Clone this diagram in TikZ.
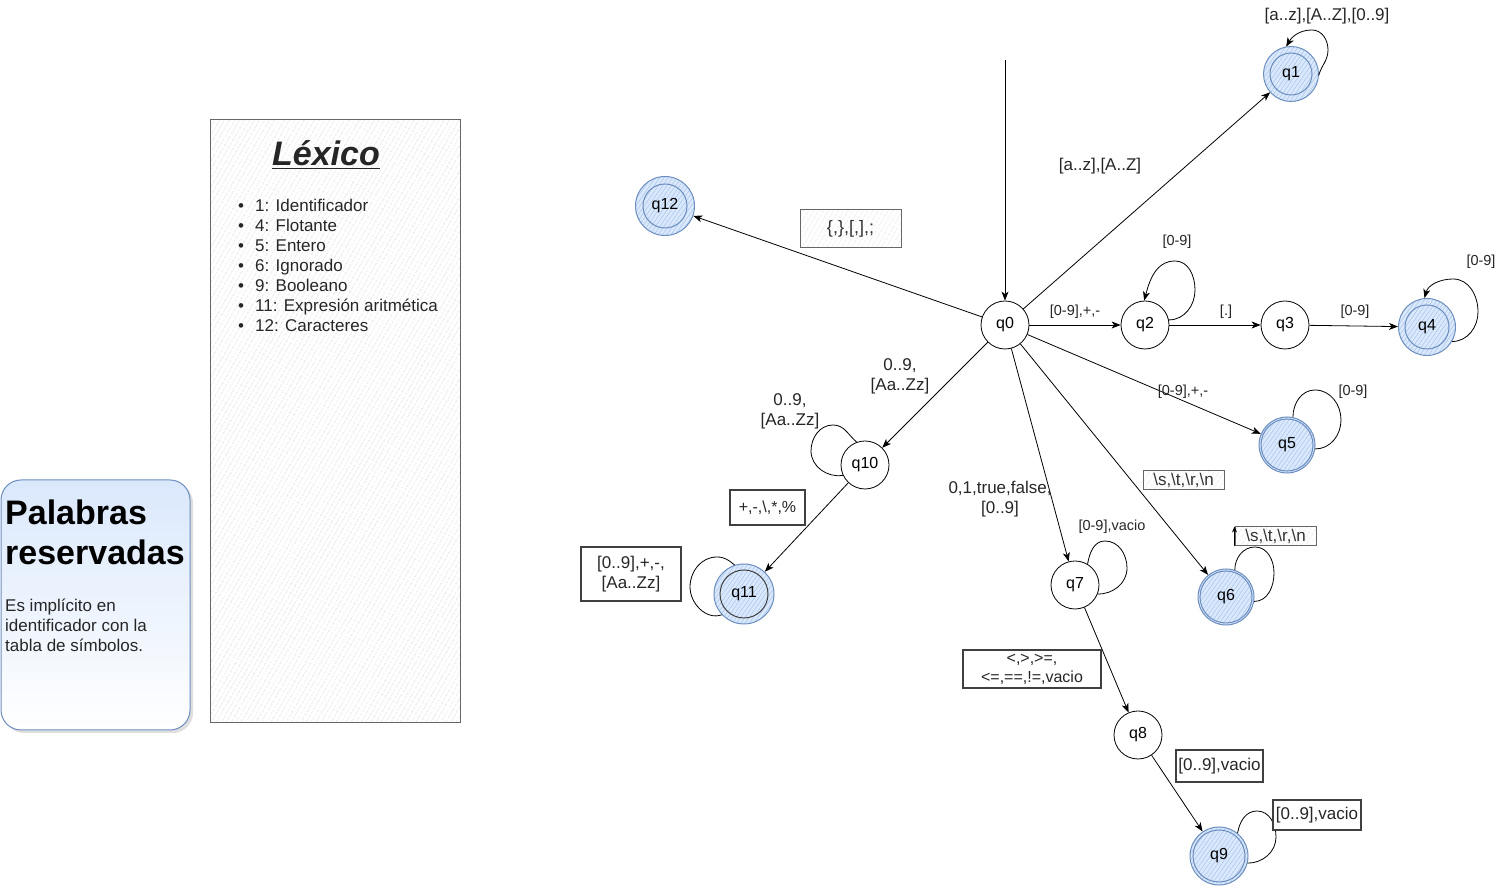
\documentclass[tikz,border=0pt]{standalone}
\usepackage{fontspec}
\setmainfont{Liberation Sans}
\usetikzlibrary{arrows.meta,patterns.meta,shadows}
\definecolor{accf}{HTML}{DAE8FC}
\definecolor{accb}{HTML}{6C8EBF}
\definecolor{acch}{HTML}{A9C4EB}
\definecolor{boxg}{HTML}{666666}
\definecolor{hatchg}{HTML}{D6D6D6}
\newcommand\myfl{\fontsize{17}{20}\selectfont}
\newcommand\myfs{\fontsize{14.5}{17}\selectfont}
\tikzset{
  st/.style={circle,draw,line width=0.8pt,minimum size=48pt,inner sep=0pt,font=\fontsize{16}{19}\selectfont,fill=white},
  acc/.style={circle,draw=accb,line width=1pt,minimum size=#1,inner sep=0pt,font=\fontsize{16}{19}\selectfont,
    preaction={fill=accf},pattern={Lines[angle=55,distance=3.5pt,line width=0.5pt]},pattern color=acch},
  inner/.style={draw=accb,line width=1pt},
  ed/.style={-{Stealth[length=9pt,width=7pt,inset=2.5pt]},line width=0.8pt},
  lp/.style={line width=0.8pt},
  lbl/.style={font=\myfl,align=center,text=black!85,inner sep=0pt},
  slbl/.style={font=\myfs,align=center,text=black!85,inner sep=0pt},
  hbox/.style={draw=boxg,line width=1pt,preaction={fill=white},
    pattern={Lines[angle=60,distance=4pt,line width=0.5pt]},pattern color=hatchg,
    inner sep=0pt,align=center,font=\myfl,text=black!80},
  sbox/.style={draw=black!75,line width=1.4pt,fill=white,
    inner sep=0pt,align=center,font=\myfl,text=black!85},
}
\begin{document}
\begin{tikzpicture}[x=1pt,y=1pt]
\useasboundingbox (0,0) rectangle (1507,888);

% ---- Palabras reservadas card
\node[draw=accb,line width=1pt,rounded corners=20pt,top color=accf,bottom color=white,
  drop shadow={shadow xshift=3pt,shadow yshift=-3pt,opacity=0.25},
  minimum width=189pt,minimum height=250pt,inner sep=0pt] (pal) at (95.5,283) {};
\node[anchor=base west,inner sep=0pt,font=\fontsize{34}{40}\selectfont\bfseries] (palt1) at (5,363) {Palabras};
\node[anchor=base west,inner sep=0pt,font=\fontsize{34}{40}\selectfont\bfseries] (palt2) at (5,323) {reservadas};
\node[anchor=base west,inner sep=0pt,font=\myfl,text=black!85] (palb1) at (5,276) {Es implícito en};
\node[anchor=base west,inner sep=0pt,font=\myfl,text=black!85] (palb2) at (5,256) {identificador con la};
\node[anchor=base west,inner sep=0pt,font=\myfl,text=black!85] (palb3) at (5,236) {tabla de símbolos.};

% ---- Lexico box
\node[draw=boxg,line width=1pt,preaction={fill=white},
  pattern={Lines[angle=60,distance=4pt,line width=0.5pt]},pattern color=hatchg,
  minimum width=250pt,minimum height=603pt,inner sep=0pt] (lex) at (335,466.5) {};
\node[anchor=base,inner sep=0pt,font=\fontsize{34}{40}\selectfont\bfseries\itshape,text=black!85] (lext) at (326,722) {\underline{Léxico}};
\foreach \t [count=\i from 0] in {1: Identificador,4: Flotante,5: Entero,6: Ignorado,9: Booleano,11: Expresión aritmética,12: Caracteres}{
  \node[anchor=base west,inner sep=0pt,font=\myfl,text=black!85] (lexi\i) at (238,676-20*\i) {\makebox[17pt][l]{\textbullet}\t};
}

% ---- states
\node[st] (q0) at (1005,563) {q0};
\node[acc=55pt] (q1) at (1291,814) {q1};
\node[st] (q2) at (1145,563) {q2};
\node[st] (q3) at (1285,563) {q3};
\node[acc=57pt] (q4) at (1427,561) {q4};
\node[acc=56pt] (q5) at (1287,443) {q5};
\node[acc=56pt] (q6) at (1226,291) {q6};
\node[st] (q7) at (1075,303) {q7};
\node[st] (q8) at (1138,153) {q8};
\node[acc=58pt] (q9) at (1219,32) {q9};
\node[st] (q10) at (865,423) {q10};
\node[acc=60pt] (q11) at (744,294) {q11};
\node[acc=59pt] (q12) at (665,682) {q12};
\draw[inner] (q1) circle[radius=21pt];
\draw[inner] (q4) circle[radius=22pt];
\draw[inner] (q5) circle[radius=26pt];
\draw[inner] (q6) circle[radius=26pt];
\draw[inner] (q9) circle[radius=26pt];
\draw[inner] (q12) circle[radius=22pt];
\draw[draw=black!75,line width=1pt] (q11) circle[radius=24pt];

% ---- start
\coordinate (start) at (1005,828);
\draw[ed] (start) -- (q0);

% ---- transitions
\draw[ed] (q0) -- (q1);
\draw[ed] (q0) -- (q2);
\draw[ed] (q2) -- (q3);
\draw[ed] (q3) -- (q4);
\draw[ed] (q0) -- (q5);
\draw[ed] (q0) -- (q6);
\draw[ed] (q0) -- (q7);
\draw[ed] (q7) -- (q8);
\draw[ed] (q8) -- (q9);
\draw[ed] (q0) -- (q10);
\draw[ed] (q10) -- (q11);
\draw[ed] (q0) -- (q12);

% ---- loops
\draw[ed] (q1.-3) to[out=75,in=-90] (1328,838) to[out=90,in=0] (1312,858) to[out=180,in=60] (q1.100);
\draw[ed] (q2.12) to[out=0,in=-90] (1195,598) to[out=90,in=0] (1175,627) to[out=180,in=75] (q2.92);
\draw[ed] (q4.-30) to[out=0,in=-90] (1478,576) to[out=90,in=0] (1453,609) to[out=180,in=75] (q4.95);
\draw[lp] (q5.78) to[out=90,in=180] (1315,498) to[out=0,in=90] (1341,468) to[out=-90,in=0] (q5.-8);
\draw[lp] (q6.72) to[out=90,in=180] (1255,341) to[out=0,in=90] (1274,315) to[out=-90,in=0] (q6.-9);
\draw[lp] (q7.59) to[out=80,in=180] (1105,347) to[out=0,in=90] (1127,320) to[out=-90,in=0] (q7.-22);
\draw[lp] (q9.51) to[out=80,in=180] (1257,77) to[out=0,in=90] (1276,51) to[out=-90,in=0] (q9.-14);
\draw[lp] (q10.110) to[out=140,in=0] (833,463) to[out=180,in=90] (811,437) to[out=-90,in=190] (q10.205);
\draw[lp] (q11.108) to[out=140,in=0] (717,331) to[out=180,in=90] (690,301) to[out=-90,in=200] (q11.223);

% ---- plain labels
\node[lbl] (l01) at (1100,722) {[a..z],[A..Z]};
\node[lbl] (l11) at (1327,872) {[a..z],[A..Z],[0..9]};
\node[slbl] (l02) at (1075,576) {[0-9],+,-};
\node[slbl] (l22) at (1177,646) {[0-9]};
\node[slbl] (l23) at (1226,576) {[.]};
\node[slbl] (l34) at (1355,576) {[0-9]};
\node[slbl] (l44) at (1481,626) {[0-9]};
\node[slbl] (l05) at (1183,496) {[0-9],+,-};
\node[slbl] (l55) at (1353,496) {[0-9]};
\node[lbl] (l07) at (1000,389) {0,1,true,false,\\{}[0..9]};
\node[slbl] (l77) at (1112,361) {[0-9],vacio};
\node[lbl] (l010) at (900,512) {0..9,\\{}[Aa..Zz]};
\node[lbl] (l1010) at (790,477) {0..9,\\{}[Aa..Zz]};

% ---- boxed labels
\node[hbox,minimum width=101pt,minimum height=38pt,font=\fontsize{18}{20}\selectfont] (lab12) at (850.5,659) {\{,\},[,],;};
\node[hbox,minimum width=81pt,minimum height=19pt] (lab6a) at (1183.5,407.5) {\textbackslash s,\textbackslash t,\textbackslash r,\textbackslash n};
\node[hbox,minimum width=81pt,minimum height=19pt] (lab6b) at (1275.5,351.5) {\textbackslash s,\textbackslash t,\textbackslash r,\textbackslash n};
\draw[-{Stealth[length=6pt,width=5pt]},line width=0.9pt] (lab6b.south west) -- (lab6b.north west);
\node[sbox,minimum width=138pt,minimum height=38pt,font=\fontsize{16}{19}\selectfont] (lab8) at (1032,219) {<,>,>=,\\<=,==,!=,vacio};
\node[sbox,minimum width=87pt,minimum height=32pt] (lab9a) at (1219.5,122) {[0..9],vacio};
\node[sbox,minimum width=88pt,minimum height=30pt] (lab9b) at (1317,73) {[0..9],vacio};
\node[sbox,minimum width=75pt,minimum height=35pt,font=\fontsize{16}{19}\selectfont] (lab11a) at (767.5,380.5) {+,-,\textbackslash,*,\%};
\node[sbox,minimum width=100pt,minimum height=54pt] (lab11b) at (631,314) {[0..9],+,-,\\{}[Aa..Zz]};
\end{tikzpicture}
\end{document}
